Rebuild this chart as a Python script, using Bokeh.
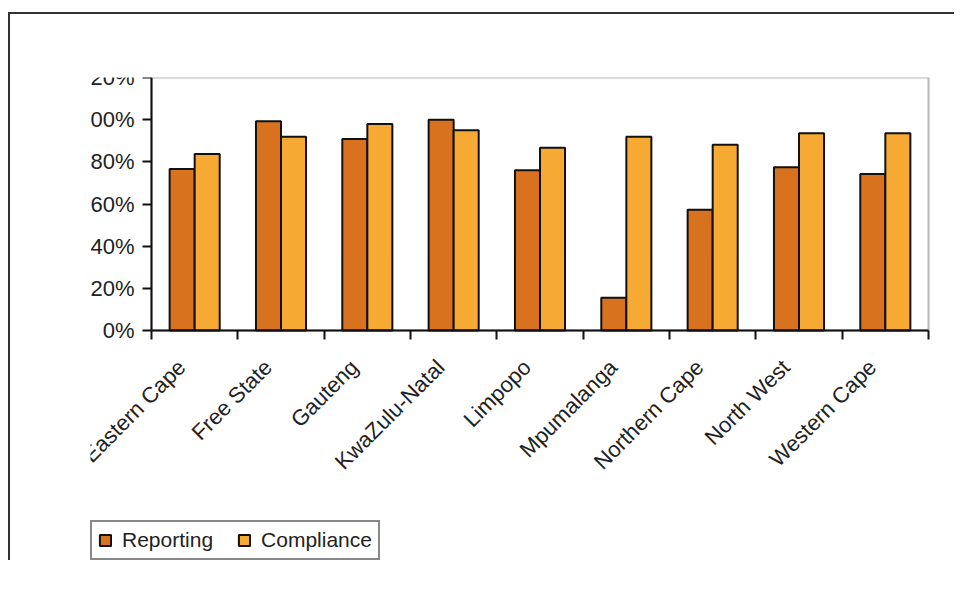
from bokeh.plotting import figure
from bokeh.models import (Range1d, FixedTicker, Legend, LegendItem, ColumnDataSource,
                          BoxAnnotation)
from bokeh.embed import file_html
from bokeh.resources import INLINE
import math

provinces = ["Eastern Cape", "Free State", "Gauteng", "KwaZulu-Natal", "Limpopo",
             "Mpumalanga", "Northern Cape", "North West", "Western Cape"]
reporting = [0.766, 0.992, 0.908, 1.00, 0.76, 0.155, 0.573, 0.774, 0.742]
compliance = [0.837, 0.919, 0.98, 0.95, 0.867, 0.919, 0.881, 0.935, 0.935]
series_names = ["Reporting", "Compliance"]
y_ticks = [0, 0.2, 0.4, 0.6, 0.8, 1.0, 1.2]
y_tick_labels = ["0%", "20%", "40%", "60%", "80%", "100%", "120%"]

REP_COLOR = "#D9721F"
COMP_COLOR = "#F7AA33"
FONT = "Liberation Sans"
bar_w = 0.29
label_shift = 0.15
n = len(provinces)
y_max = 1.2

# plot-area geometry (pixels) used to extend the ranges so the frame also holds the legend
px_per_x = 777 / n
px_per_y = 253 / y_max
frame_w, frame_h = 860, 483
x_start = -61 / px_per_x
x_end = n + 22 / px_per_x
y_start = -230 / px_per_y

centers = [i + 0.5 for i in range(n)]
label_pos = [c - label_shift for c in centers]
src = ColumnDataSource(dict(
    xr=[c - bar_w / 2 for c in centers],
    xc=[c + bar_w / 2 for c in centers],
    rep=reporting, comp=compliance))

p = figure(frame_width=frame_w, frame_height=frame_h,
           min_border_left=80, min_border_top=63,
           min_border_right=4, min_border_bottom=0,
           x_range=Range1d(x_start, x_end), y_range=Range1d(y_start, y_max),
           output_backend="svg", toolbar_location=None,
           styles={"border-top": "2px solid #333333", "border-left": "2px solid #333333",
                   "margin-top": "12px", "margin-left": "8px"})

r1 = p.vbar(x="xr", top="rep", width=bar_w, source=src, fill_color=REP_COLOR,
            line_color="#111111", line_width=2)
r2 = p.vbar(x="xc", top="comp", width=bar_w, source=src, fill_color=COMP_COLOR,
            line_color="#111111", line_width=2)

p.grid.visible = False
p.outline_line_color = None
p.add_layout(BoxAnnotation(left=0, right=n, bottom=0, top=y_max,
                           fill_alpha=0, line_color="#111111", line_width=2))

ya = p.yaxis[0]
ya.fixed_location = 0
ya.bounds = (0, y_max)
ya.ticker = FixedTicker(ticks=y_ticks)
ya.major_label_overrides = {t: l for t, l in zip(y_ticks, y_tick_labels)}
ya.major_tick_out = 9
ya.major_tick_in = 0
ya.minor_tick_out = 0
ya.minor_tick_in = 0
ya.axis_line_width = 2
ya.major_tick_line_width = 2
ya.axis_line_color = "#111111"
ya.major_tick_line_color = "#111111"
ya.major_label_text_font = FONT
ya.major_label_text_font_size = "22px"
ya.major_label_text_color = "#222222"
ya.major_label_standoff = 8

xa = p.xaxis[0]
xa.fixed_location = 0
xa.bounds = (0, n)
xa.ticker = FixedTicker(ticks=label_pos, minor_ticks=list(range(n + 1)))
xa.major_label_overrides = {c: nm for c, nm in zip(label_pos, provinces)}
xa.major_tick_out = 0
xa.major_tick_in = 0
xa.minor_tick_out = 9
xa.minor_tick_in = 0
xa.minor_tick_line_width = 2
xa.minor_tick_line_color = "#111111"
xa.axis_line_width = 2
xa.axis_line_color = "#111111"
xa.major_label_orientation = math.pi / 4
xa.major_label_text_font = FONT
xa.major_label_text_font_size = "22px"
xa.major_label_text_color = "#222222"
xa.major_label_standoff = 24

legend = Legend(items=[LegendItem(label=series_names[0], renderers=[r1]),
                       LegendItem(label=series_names[1], renderers=[r2])],
                location=(0, 0), orientation="horizontal",
                label_text_font=FONT, label_text_font_size="21px",
                label_text_color="#222222",
                glyph_width=14, glyph_height=14, label_standoff=10, spacing=24,
                padding=6, margin=0,
                border_line_color="#111111", border_line_width=2,
                background_fill_alpha=0)
p.add_layout(legend, "center")

open("out.html", "w").write(file_html(p, INLINE))
